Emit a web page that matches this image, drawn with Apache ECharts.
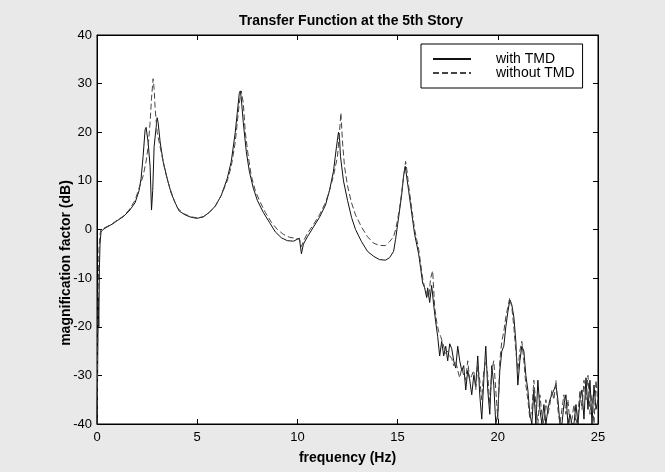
<!DOCTYPE html>
<html>
<head>
<meta charset="utf-8">
<script src="https://cdn.jsdelivr.net/npm/echarts@6/dist/echarts.min.js"></script>
<style>
html,body{margin:0;padding:0;background:#e9e9e9;}
#chart{width:665px;height:472px;}
</style>
</head>
<body>
<div id="chart"></div>
<script>
var titleText = 'Transfer Function at the 5th Story';
var xName = 'frequency (Hz)';
var yName = 'magnification factor (dB)';
var seriesNames = ['with TMD', 'without TMD'];
var xTicks = [0, 5, 10, 15, 20, 25];
var yTicks = [-40, -30, -20, -10, 0, 10, 20, 30, 40];

var freqWith = [0.00,0.03,0.06,0.09,0.12,0.15,0.2,0.3,0.5,0.8,1.0,1.3,1.6,1.9,2.1,2.2,2.3,2.4,2.45,2.55,2.65,2.72,2.78,2.85,2.95,3.0,3.05,3.15,3.3,3.5,3.7,3.9,4.1,4.4,4.7,5.0,5.3,5.6,5.9,6.2,6.5,6.7,6.9,7.0,7.1,7.15,7.2,7.3,7.45,7.6,7.8,8.0,8.3,8.6,8.9,9.2,9.5,9.8,10.0,10.1,10.2,10.3,10.5,10.8,11.1,11.4,11.6,11.8,11.95,12.05,12.1,12.15,12.3,12.5,12.7,12.9,13.2,13.5,13.8,14.1,14.4,14.6,14.8,14.9,15.0,15.1,15.2,15.3,15.38,15.45,15.55,15.65,15.75,15.85,15.95,16.05,16.15,16.25,16.35,16.45,16.5,16.6,16.7,16.8,16.9,17.0,17.1,17.2,17.3,17.4,17.5,17.6,17.7,17.8,17.9,18.0,18.1,18.2,18.3,18.4,18.5,18.6,18.7,18.8,18.9,19.0,19.1,19.2,19.3,19.4,19.5,19.6,19.7,19.8,19.9,20.0,20.1,20.2,20.3,20.4,20.5,20.6,20.7,20.8,20.9,21.0,21.1,21.2,21.3,21.4,21.5,21.6,21.7,21.8,21.9,22.0,22.1,22.2,22.3,22.4,22.5,22.6,22.7,22.8,22.9,23.0,23.1,23.2,23.3,23.4,23.5,23.6,23.7,23.8,23.9,24.0,24.1,24.2,24.3,24.4,24.5,24.6,24.7,24.8,24.9,25.0];
var magWith = [-40,-30,-14,-20,-8,-3,-0.5,0,0.5,1.2,1.8,2.6,3.8,5.5,8,10.5,15,20.5,21,18,13,4,8,17,21,23,22,18,14,10.5,7.5,5.5,3.8,3,2.5,2.3,2.6,3.5,4.8,7,10.5,14,20,24,28,28.5,27,22,16,12,8.5,6,3.5,1.5,-0.5,-1.7,-2.3,-2.4,-2,-1.8,-5,-3,-1.5,0.5,2.5,5,8,12,17,20,19,15,10,6,2.5,0,-2.5,-4.5,-5.5,-6.2,-6.3,-5.8,-4.5,-2,1,4,7,11,13,11,8,5,2,-1,-3,-5,-8,-11,-12,-14,-12,-15,-11.5,-15.5,-19,-22,-26,-23,-26,-24,-27,-23.5,-24.5,-27,-28.5,-24,-27,-29,-28,-33,-29,-31,-34,-30,-32,-26,-34,-39,-31,-24,-33,-38,-28,-32,-40,-38,-29,-25,-24,-20,-17,-14.5,-15.5,-18,-23,-32,-27,-24,-25,-30,-33,-38,-40,-33,-40,-31,-37,-40,-36,-40,-37,-35,-34,-33,-32,-35,-40,-40,-36,-34,-40,-38,-40,-40,-36,-40,-35,-33,-39,-30.5,-37,-31,-40,-32,-37,-35];

var freqWithout = [0.00,0.03,0.06,0.1,0.15,0.2,0.3,0.5,0.8,1.0,1.3,1.6,1.9,2.1,2.3,2.45,2.55,2.65,2.72,2.8,2.85,2.9,3.0,3.1,3.2,3.4,3.6,3.8,4.0,4.3,4.7,5.0,5.3,5.6,5.9,6.2,6.5,6.7,6.9,7.0,7.1,7.2,7.3,7.4,7.55,7.7,7.9,8.1,8.4,8.7,9.0,9.3,9.6,9.9,10.1,10.2,10.35,10.5,10.8,11.1,11.4,11.6,11.8,12.0,12.1,12.17,12.25,12.35,12.5,12.7,12.9,13.2,13.5,13.8,14.1,14.4,14.6,14.8,14.9,15.0,15.1,15.2,15.3,15.4,15.47,15.55,15.65,15.75,15.85,15.95,16.05,16.15,16.25,16.35,16.45,16.55,16.65,16.75,16.85,16.95,17.05,17.15,17.3,17.4,17.5,17.6,17.7,17.8,17.9,18.0,18.1,18.2,18.3,18.4,18.5,18.6,18.7,18.8,18.9,19.0,19.1,19.2,19.3,19.4,19.5,19.6,19.7,19.8,19.9,20.0,20.1,20.2,20.3,20.4,20.5,20.6,20.7,20.8,20.9,21.0,21.1,21.2,21.3,21.4,21.5,21.6,21.7,21.8,21.9,22.0,22.1,22.2,22.3,22.4,22.5,22.6,22.7,22.8,22.9,23.0,23.1,23.2,23.3,23.4,23.5,23.6,23.7,23.8,23.9,24.0,24.1,24.2,24.3,24.4,24.5,24.6,24.7,24.8,24.9,25.0];
var magWithout = [-40,-25,-12,-4,-1,0,0.2,0.6,1.3,1.9,2.7,4,6,8.5,11,14,17,22,27,31,29,25,20,18,16,12,9,6.5,4.5,3.3,2.6,2.4,2.6,3.5,4.8,7,10,13,18,22,26,28.5,26,20,15,11,8,6,3.5,1.5,0,-1,-1.6,-1.8,-2,-3.5,-2,-0.8,1,3,5.5,8,11,15,20,24,18,13,9,5.5,3,0.5,-1.5,-2.8,-3.3,-3.3,-2.5,-1.5,0,2,4.5,7.5,11,14,12,9,6,3,0,-2,-4,-7,-10,-12,-13,-14,-10,-8.5,-16,-19,-21,-22,-24,-25.5,-25,-26,-26.5,-28,-27,-29,-30.5,-28.5,-30,-31,-27,-31,-30,-29,-33,-28,-31,-35,-29,-27,-30,-36,-29,-27,-33,-39,-27,-23,-21,-18,-16,-14,-16,-20,-25,-29,-25,-23,-27,-32,-35,-39,-37,-31,-36,-40,-34,-38,-40,-35,-38,-36,-33,-35,-31,-37,-40,-37,-34,-38,-35,-40,-39,-36,-40,-38,-33,-37,-31,-35,-30,-38,-34,-40,-31,-36];

function pairs(xs, ys){ var out=[]; for(var i=0;i<xs.length;i++){ out.push([xs[i], ys[i]]); } return out; }

var FONT = 'Liberation Sans, Arial, sans-serif';
var chart = echarts.init(document.getElementById('chart'), null, {renderer:'canvas'});

var tickStyle = {show:true, inside:true, length:5, lineStyle:{color:'#000', width:1}};
var option = {
  backgroundColor: '#e9e9e9',
  animation: false,
  title: {
    text: titleText, left: 346, top: 9, textAlign: 'center',
    textStyle: {fontFamily: FONT, fontSize: 14, fontWeight: 'bold', color: '#000'}
  },
  legend: {
    orient: 'vertical', left: 421, top: 44,
    padding: [8, 8, 8, 11], itemGap: 0,
    itemWidth: 38, itemHeight: 12,
    backgroundColor: '#fff', borderColor: '#000', borderWidth: 1,
    itemStyle: {opacity: 0},
    textStyle: {fontFamily: FONT, fontSize: 14, color: '#000', padding: [0, 0, 0, 20]},
    data: seriesNames
  },
  grid: {
    left: 97, top: 35, right: 67, bottom: 48,
    show: true, backgroundColor: '#fff', borderColor: '#000', borderWidth: 1
  },
  xAxis: [{
    type: 'value', min: xTicks[0], max: xTicks[xTicks.length-1], interval: 5,
    axisLine: {show: true, onZero: false, lineStyle: {color: '#000', width: 1}},
    axisTick: tickStyle, splitLine: {show: false},
    axisLabel: {fontFamily: FONT, fontSize: 13, color: '#000', margin: 7},
    name: xName, nameLocation: 'middle', nameGap: 27,
    nameTextStyle: {fontFamily: FONT, fontSize: 14, fontWeight: 'bold', color: '#000'}
  }, {
    type: 'value', position: 'top', min: 0, max: 25, interval: 5,
    axisLine: {show: true, onZero: false, lineStyle: {color: '#000'}},
    axisTick: tickStyle, axisLabel: {show: false}, splitLine: {show: false}
  }],
  yAxis: [{
    type: 'value', min: yTicks[0], max: yTicks[yTicks.length-1], interval: 10,
    axisLine: {show: true, onZero: false, lineStyle: {color: '#000', width: 1}},
    axisTick: tickStyle, splitLine: {show: false},
    axisLabel: {fontFamily: FONT, fontSize: 13, color: '#000', margin: 5}
  }, {
    type: 'value', position: 'right', min: -40, max: 40, interval: 10,
    axisLine: {show: true, onZero: false, lineStyle: {color: '#000'}},
    axisTick: tickStyle, axisLabel: {show: false}, splitLine: {show: false}
  }],
  graphic: [{
    type: 'text', x: 66, y: 263, rotation: Math.PI/2,
    style: {text: yName, fontFamily: FONT, fontSize: 14, fontWeight: 'bold', fill: '#000',
            textAlign: 'center', textVerticalAlign: 'middle'}
  }],
  series: [{
    name: seriesNames[0], type: 'line', symbol: 'none', xAxisIndex: 0, yAxisIndex: 0,
    data: pairs(freqWith, magWith),
    lineStyle: {color: '#111', width: 1, type: 'solid'},
    itemStyle: {color: '#111'}, clip: true
  }, {
    name: seriesNames[1], type: 'line', symbol: 'none', xAxisIndex: 0, yAxisIndex: 0,
    data: pairs(freqWithout, magWithout),
    lineStyle: {color: '#444', width: 1, type: [6, 3]},
    itemStyle: {color: '#444'}, clip: true
  }]
};
chart.setOption(option);
</script>
</body>
</html>
